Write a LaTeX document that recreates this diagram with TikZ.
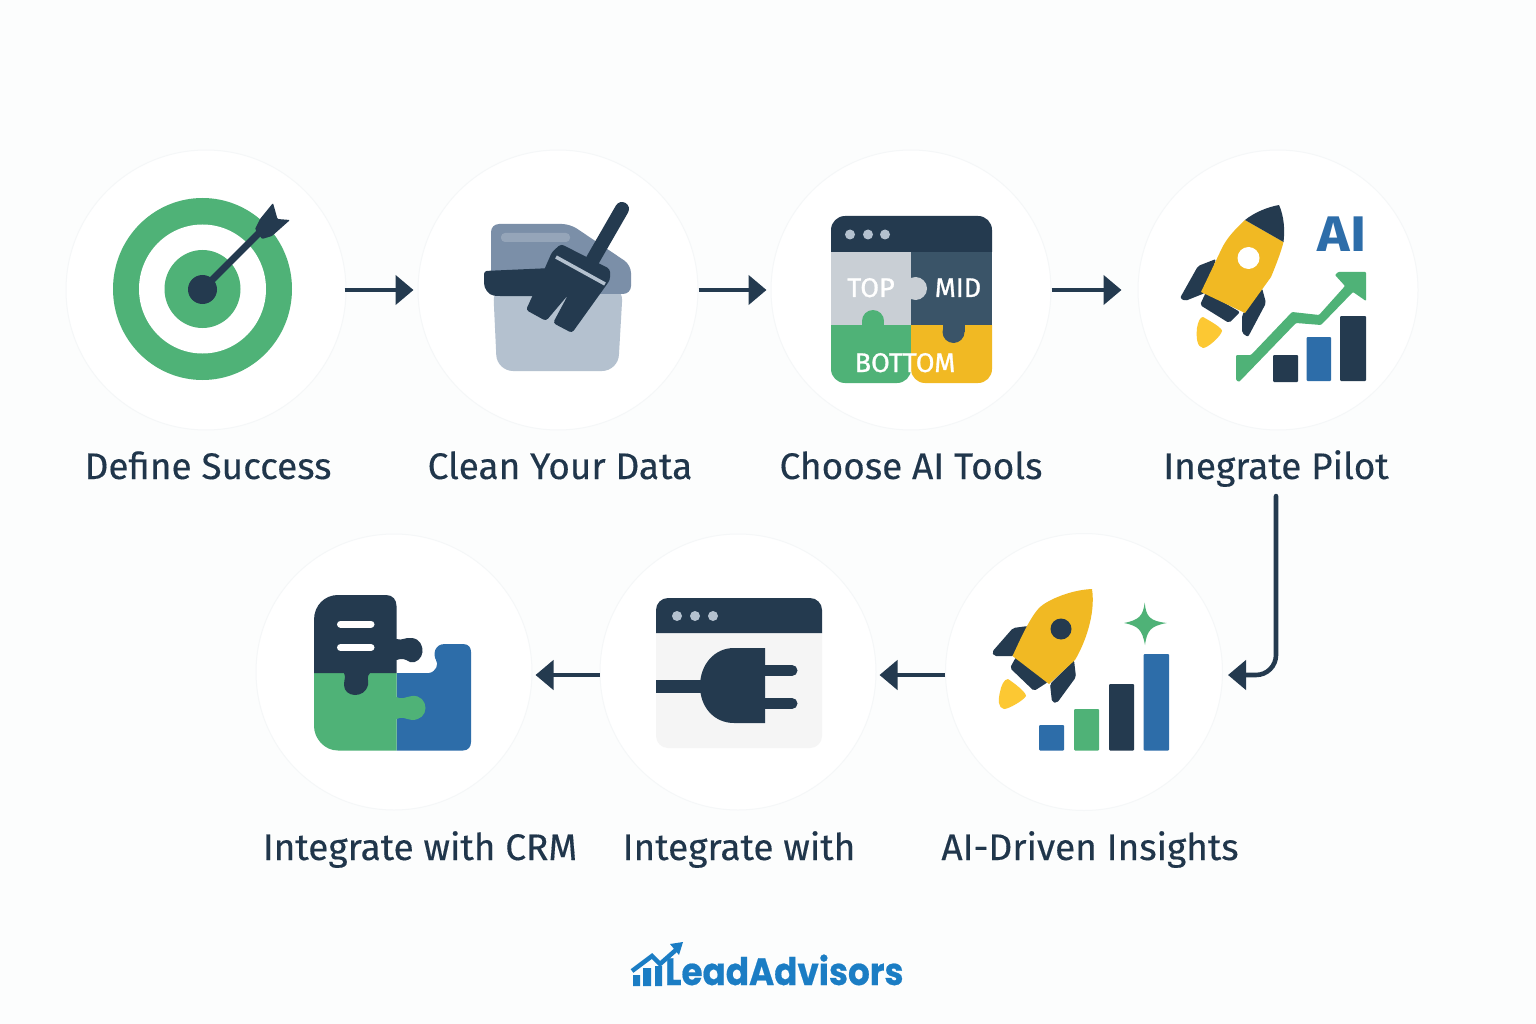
\documentclass[tikz,border=0pt]{standalone}
\usepackage{fontspec}
\setmainfont{Fira Sans}
\newfontfamily\labelfont[FakeBold=0.3]{Fira Sans}
\newfontfamily\puzzlefont[FakeBold=1]{Fira Sans}
\newfontfamily\logofont[FakeBold=0.5]{Poppins}
\usetikzlibrary{arrows.meta}
\definecolor{bgcol}{HTML}{FCFDFD}
\definecolor{ringcol}{HTML}{F5F7F8}
\definecolor{inkcol}{HTML}{243A4F}
\definecolor{textcol}{HTML}{20364B}
\definecolor{greencol}{HTML}{4FB277}
\definecolor{yellowcol}{HTML}{F1B923}
\definecolor{flamecol}{HTML}{FCC833}
\definecolor{bluecol}{HTML}{2D6DA9}
\definecolor{lidcol}{HTML}{7B8FA8}
\definecolor{pailcol}{HTML}{B4C1CF}
\definecolor{topcol}{HTML}{C9CFD5}
\definecolor{midcol}{HTML}{3A5468}
\definecolor{logocol}{HTML}{1B7DC4}
\tikzset{
	stepcircle/.style = {circle, fill=white, draw=ringcol, line width=1pt, inner sep=0pt, minimum size=#1},
	steplabel/.style = {font=\fontsize{37}{40}\selectfont\labelfont, text=textcol, inner sep=0pt, anchor=base},
	flowline/.style = {draw=inkcol, line width=4.6pt, -{Triangle[length=18pt,width=29pt]}},
	dotmark/.style = {circle, fill=pailcol, inner sep=0pt, minimum size=10pt},
	barmark/.style = {rounded corners=1pt},
	puzzletext/.style = {font=\fontsize{27}{28}\selectfont\puzzlefont, text=white, inner sep=0pt, anchor=base}
}
\begin{document}
\begin{tikzpicture}[x=1pt,y=-1pt]
	\useasboundingbox (0,0) rectangle (1536,1024);
	\fill[bgcol] (0,0) rectangle (1536,1024);

	\node [stepcircle=280pt] (define) at (206,290) {};
	\node [stepcircle=280pt] (clean) at (558,290) {};
	\node [stepcircle=280pt] (choose) at (911,290) {};
	\node [stepcircle=280pt] (pilot) at (1278,290) {};
	\node [stepcircle=277pt] (insights) at (1084,672) {};
	\node [stepcircle=276pt] (plug) at (738,672) {};
	\node [stepcircle=276pt] (crm) at (394,672) {};

	\node [steplabel] (definelbl) at (208,479) {Define Success};
	\node [steplabel] (cleanlbl) at (560,479) {Clean Your Data};
	\node [steplabel] (chooselbl) at (911,479) {Choose AI Tools};
	\node [steplabel] (pilotlbl) at (1276,479) {Inegrate Pilot};
	\node [steplabel] (crmlbl) at (420,860) {Integrate with CRM};
	\node [steplabel] (pluglbl) at (739,860) {Integrate with};
	\node [steplabel] (insightslbl) at (1090,860) {AI-Driven Insights};

	\draw[flowline, shorten <=-2pt, shorten >=4pt] (define.east) -- (clean.west);
	\draw[flowline, shorten >=4pt] (clean.east) -- (choose.west);
	\draw[flowline, shorten >=16pt] (choose.east) -- (pilot.west);
	\draw[flowline, line cap=round, rounded corners=20pt, shorten <=9pt, shorten >=5pt] (pilotlbl.south) |- ([yshift=-3pt]insights.east);
	\draw[flowline, shorten >=3pt] ([yshift=-3pt]insights.west) -- ([yshift=-3pt]plug.east);
	\draw[flowline, shorten >=3pt] ([yshift=-3pt]plug.west) -- ([yshift=-3pt]crm.east);

	% target
	\fill[greencol] (202.5,289) ellipse (89.5 and 91);
	\fill[white] (202.5,289) ellipse (63.5 and 64.5);
	\fill[greencol] (202.5,289) ellipse (38 and 39);
	\draw[inkcol, line width=7pt] (202.5,289.5) -- (264,228);
	\fill[inkcol] (202.5,289.5) circle (14.5);
	\fill[inkcol, rounded corners=1pt] (273,203) -- (277.5,219) -- (290,220) -- (272,236) -- (262,239) -- (255,229) -- (260,219) -- cycle;

	% bucket and brush
	\fill[pailcol, rounded corners=16pt] (493,285) -- (497,371) -- (618,371) -- (623,285) -- cycle;
	\fill[lidcol, rounded corners=8pt] (491,293) -- (491,224) -- (570,224) -- (631,265) -- (631,294) -- cycle;
	\fill[white, opacity=.2, rounded corners=4pt] (501,233) rectangle (570,242);
	\fill[inkcol, rounded corners=3pt] (484,271) -- (552,268) -- (562,280) -- (536,296) -- (497,296) .. controls (488,295) and (484,288) .. (484,280) -- cycle;
	\draw[inkcol, line width=14pt, line cap=round] (622,209) -- (588,268);
	\fill[inkcol, rounded corners=3pt] (561,244) -- (610,269) -- (610,280) -- (572,333) -- (553,323) -- (568,295) -- (546,321) -- (526,310) -- (537,286) -- (552,252) -- cycle;
	\draw[pailcol, line width=3.5pt] (556,257) -- (605,284);

	% puzzle window
	\fill[inkcol] (831,252) [rounded corners=14pt] -- (831,216) -- (992,216) [sharp corners] -- (992,252) -- cycle;
	\node [dotmark] (choosedota) at (850,234.5) {};
	\node [dotmark] (choosedotb) at (868,234.5) {};
	\node [dotmark] (choosedotc) at (885,234.5) {};
	\fill[midcol] (911,252) rectangle (992,325);
	\fill[topcol] (831,252) rectangle (911,325);
	\fill[topcol] (915.5,288.5) circle (11.5);
	\fill[greencol] (831,325) [rounded corners=14pt] -- (831,383) -- (911,383) [sharp corners] -- (911,325) -- cycle;
	\fill[yellowcol] (911,325) [rounded corners=14pt] -- (911,383) -- (992,383) [sharp corners] -- (992,325) -- cycle;
	\fill[greencol] (873,321) circle (11);
	\fill[greencol] (862,321) rectangle (884,326);
	\fill[midcol] (953.5,332) circle (11);
	\fill[midcol] (942.5,324) rectangle (964.5,332);
	\node [puzzletext] (toptxt) at (871,297) {TOP};
	\node [puzzletext] (midtxt) at (958,297) {MID};
	\node [puzzletext] (bottomtxt) at (905,372) {BOTTOM};

	% rocket with ai chart
	\fill[inkcol, rounded corners=2pt] (1216,259) -- (1198,266) -- (1180,298) -- (1185,301) -- (1205,293) -- cycle;
	\fill[inkcol, rounded corners=2pt] (1262,288) -- (1266,303) -- (1248,337) -- (1242,333) -- (1242,315) -- cycle;
	\fill[inkcol, rounded corners=2pt] (1206,292) -- (1200,305) -- (1229,323) -- (1240,312) -- cycle;
	\fill[yellowcol] (1245,220) .. controls (1232,232) and (1226,240) .. (1222,248) -- (1201,292) -- (1245,313) -- (1271,277) .. controls (1276,265) and (1281,252) .. (1283.5,242) -- cycle;
	\fill[inkcol] (1245,220) .. controls (1255,212) and (1268,207) .. (1279,205) .. controls (1284,216) and (1285,230) .. (1283.5,242) -- cycle;
	\fill[white] (1248.5,258) circle (11);
	\fill[flamecol] (1203,317) .. controls (1212,322) and (1222,328) .. (1222,331) .. controls (1221,336) and (1208,348) .. (1203,348) .. controls (1197,347) and (1196,338) .. (1197,328) .. controls (1198,322) and (1200,317) .. cycle;
	\node [font=\fontsize{50}{50}\selectfont\bfseries, text=bluecol, inner sep=0pt, anchor=base] (aitxt) at (1342,252) {\scalebox{1.1}[1]{AI}};
	\fill[greencol, rounded corners=1pt] (1236,355) -- (1251,355) -- (1292,312) -- (1319,315) -- (1345,286) -- (1335,275) -- (1338,272) -- (1366,272) -- (1366,301) -- (1353,292) -- (1321,325) -- (1296,323) -- (1239,382) -- (1236,380) -- cycle;
	\fill[inkcol, barmark] (1273,355) rectangle (1298,382);
	\fill[bluecol, barmark] (1306.5,337) rectangle (1331,381);
	\fill[inkcol, barmark] (1340,316) rectangle (1366,381);

	% rocket with bars
	\fill[inkcol, rounded corners=2pt] (1028,626) -- (1013,628) -- (992,652) -- (994,656) -- (1014,656) -- cycle;
	\fill[inkcol, rounded corners=2pt] (1074,660) -- (1076,677) -- (1057,703) -- (1052,702) -- (1050,684) -- cycle;
	\fill[inkcol, rounded corners=2pt] (1016,657) -- (1010,668) -- (1034,691) -- (1048,682) -- cycle;
	\fill[yellowcol] (1092,589) .. controls (1070,590) and (1048,600) .. (1040,607) .. controls (1030,617) and (1020,640) .. (1012.5,656) -- (1049,684) -- (1075,660) .. controls (1084,645) and (1096,615) .. cycle;
	\fill[inkcol] (1061,629) circle (10.5);
	\fill[flamecol] (1008,679) .. controls (1014,683) and (1026,692) .. (1026,696) .. controls (1024,700) and (1009,709) .. (1004,709) .. controls (998,708) and (998,700) .. (1000,692) .. controls (1001,686) and (1004,679) .. cycle;
	\fill[greencol] (1144.7,602.5) .. controls (1146,617) and (1150,621) .. (1166.7,623) .. controls (1151,626) and (1147,630) .. (1145,645) .. controls (1142,630) and (1139,626) .. (1124,623) .. controls (1139,620) and (1143,616) .. cycle;
	\fill[bluecol, barmark] (1039,725) rectangle (1064,750.5);
	\fill[greencol, barmark] (1074,709) rectangle (1099,750.5);
	\fill[inkcol, barmark] (1109,684) rectangle (1134,750.5);
	\fill[bluecol, barmark] (1143.5,654) rectangle (1169,750.5);

	% plug window
	\fill[black!4!white] (656,633) -- (822,633) [rounded corners=12pt] -- (822,748) -- (656,748) [sharp corners] -- cycle;
	\fill[inkcol] (656,633) [rounded corners=12pt] -- (656,598) -- (822,598) [sharp corners] -- (822,633) -- cycle;
	\node [dotmark] (plugdota) at (677,616) {};
	\node [dotmark] (plugdotb) at (695,616) {};
	\node [dotmark] (plugdotc) at (713,616) {};
	\fill[inkcol] (656,680) rectangle (705,693);
	\fill[inkcol] (765,648) -- (734,648) .. controls (714,648) and (700,665) .. (700,686) .. controls (700,707) and (714,723) .. (734,723) -- (765,723) -- cycle;
	\draw[inkcol, line width=11pt, line cap=round] (765,670.5) -- (792,670.5) (765,703.5) -- (792,703.5);

	% puzzle crm
	\fill[bluecol] (396.5,673) -- (429,673) .. controls (436,672) and (439,664) .. (436,660) .. controls (433,655) and (434,644) .. (445,644) -- (463,644) .. controls (469,644) and (471,648) .. (471,652) -- (471,742) .. controls (471,747) and (468,750.5) .. (463,750.5) -- (396.5,750.5) -- cycle;
	\fill[greencol] (314,673) -- (396.5,673) -- (396.5,697) .. controls (402,700) and (405,697) .. (412,696) .. controls (420,695) and (425.5,701) .. (425.5,708) .. controls (425.5,715) and (420,720) .. (412,720) .. controls (405,719) and (402,716) .. (396.5,719) -- (396.5,750.5) -- (338,750.5) .. controls (324,750.5) and (314,738) .. (314,726) -- cycle;
	\fill[inkcol] (314,673) -- (314,620) .. controls (314,605) and (325,595) .. (338,595) -- (386,595) .. controls (393,595) and (396.5,600) .. (396.5,606) -- (396.5,639) .. controls (402,641) and (405,637) .. (412,638) .. controls (420,639) and (423,646) .. (422.5,652) .. controls (422,658) and (416,664) .. (410,662) .. controls (405,659) and (402,658) .. (396.5,660) -- (396.5,673) -- (370,673) .. controls (366,677) and (369,680) .. (368,685) .. controls (366,692) and (361,695) .. (355,695) .. controls (349,695) and (344,691) .. (344,685) .. controls (344,680) and (346,677) .. (344,673) -- cycle;
	\draw[white, line width=7pt, line cap=round] (340.5,624) -- (371,624) (340.5,647.5) -- (371,647.5);

	% logo
	\node [font=\fontsize{38}{40}\selectfont\logofont\bfseries, text=logocol, inner sep=0pt, anchor=base west] (logotxt) at (665,985) {\scalebox{.9}[1]{LeadAdvisors}};
	\fill[logocol] (633,975) rectangle (640,986) (643,968) rectangle (651,986) (655,966) rectangle (662,986);
	\draw[logocol, line width=4.5pt] (632,971) -- (652,956) -- (660,964) -- (677,949);
	\fill[logocol] (670,944) -- (683,942) -- (679,955) -- cycle;
\end{tikzpicture}
\end{document}
